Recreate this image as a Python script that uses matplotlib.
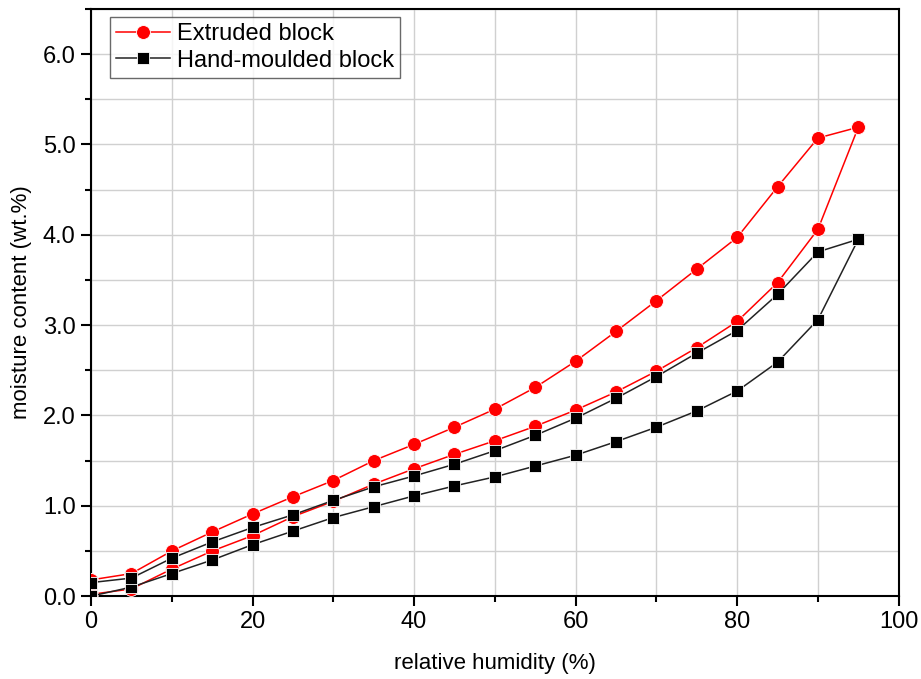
import matplotlib
matplotlib.use("Agg")
import matplotlib.pyplot as plt
from matplotlib.ticker import MultipleLocator

plt.rcParams['font.family'] = ['Liberation Sans', 'DejaVu Sans']

rh = [0, 5, 10, 15, 20, 25, 30, 35, 40, 45, 50, 55, 60, 65, 70, 75, 80, 85, 90, 95]

extruded_ads = [0.02, 0.08, 0.30, 0.50, 0.67, 0.88, 1.05, 1.24, 1.41, 1.57, 1.72, 1.88, 2.06, 2.26, 2.49, 2.75, 3.04, 3.47, 4.06, 5.19]
extruded_des = [0.18, 0.25, 0.50, 0.71, 0.91, 1.10, 1.28, 1.50, 1.68, 1.87, 2.07, 2.31, 2.60, 2.93, 3.27, 3.62, 3.97, 4.53, 5.07, 5.19]

hand_ads = [0.00, 0.10, 0.25, 0.40, 0.57, 0.72, 0.87, 0.99, 1.11, 1.22, 1.32, 1.44, 1.56, 1.71, 1.87, 2.05, 2.27, 2.59, 3.06, 3.95]
hand_des = [0.15, 0.20, 0.42, 0.60, 0.76, 0.90, 1.06, 1.21, 1.33, 1.46, 1.61, 1.78, 1.97, 2.19, 2.43, 2.69, 2.94, 3.34, 3.81, 3.95]

labels = ["Extruded block", "Hand-moulded block"]

fig = plt.figure(figsize=(9.21, 6.79), dpi=100)
ax = fig.add_axes([0.0988, 0.122, 0.877, 0.865])

x_loop = rh + rh[::-1]
ext_loop = extruded_ads + extruded_des[::-1]
hand_loop = hand_ads + hand_des[::-1]

ax.plot(x_loop, ext_loop, color='red', lw=1.1, marker='o', markersize=10,
        markerfacecolor='red', markeredgecolor='white', markeredgewidth=0.6, zorder=3, label=labels[0])
ax.plot(x_loop, hand_loop, color='#222222', lw=1.1, marker='s', markersize=9,
        markerfacecolor='black', markeredgecolor='white', markeredgewidth=0.6, zorder=4, label=labels[1])

ax.set_xlim(0, 100)
ax.set_ylim(0, 6.5)
ax.xaxis.set_major_locator(MultipleLocator(20))
ax.xaxis.set_minor_locator(MultipleLocator(10))
ax.yaxis.set_minor_locator(MultipleLocator(0.5))
ax.set_yticks([0, 1, 2, 3, 4, 5, 6])
ax.set_yticklabels([f"{v:.1f}" for v in [0, 1, 2, 3, 4, 5, 6]])

ax.grid(True, which='both', color='#d0d0d0', lw=1.0, zorder=0)
ax.set_axisbelow(True)

for s in ax.spines.values():
    s.set_linewidth(1.5)
    s.set_color('black')

ax.tick_params(which='major', direction='out', length=7, width=1.5, labelsize=17, pad=4)
ax.tick_params(which='minor', direction='out', length=4, width=1.5)

ax.set_xlabel("relative humidity (%)", fontsize=16, labelpad=14)
ax.set_ylabel("moisture content (wt.%)", fontsize=16, labelpad=8)

leg = ax.legend(loc='upper left', bbox_to_anchor=(0.0235, 0.986), borderaxespad=0,
                fontsize=17, frameon=True, fancybox=False,
                edgecolor='#444444', handlelength=2.3, handletextpad=0.3,
                borderpad=0.25, labelspacing=0.2)
leg.get_frame().set_linewidth(1.0)

fig.savefig("out.png", dpi=100)
